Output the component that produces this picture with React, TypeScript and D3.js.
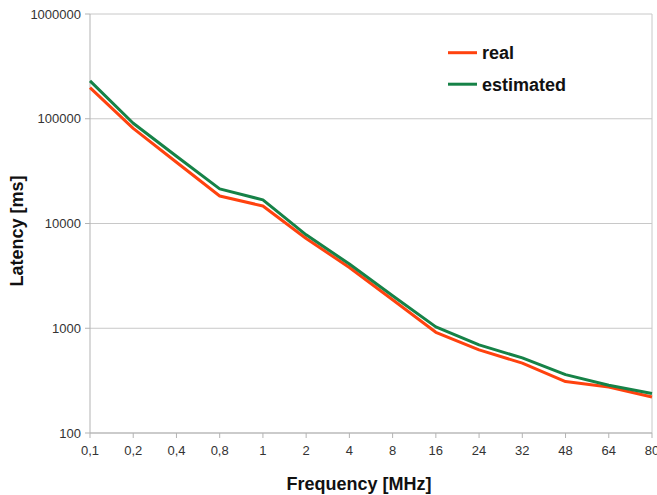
import React from "react";
import * as d3 from "d3";

const categories = ["0,1", "0,2", "0,4", "0,8", "1", "2", "4", "8", "16", "24", "32", "48", "64", "80"];
const realValues = [198000, 81000, 38400, 18300, 14700, 7200, 3800, 1870, 915, 621, 464, 310, 275, 221];
const estimatedValues = [230000, 90600, 43800, 21400, 16800, 7800, 4100, 2040, 1030, 693, 521, 361, 286, 238];
const yTicks = [100, 1000, 10000, 100000, 1000000];

const W = 657;
const H = 495;
const plot = { left: 90, right: 652, top: 14, bottom: 433 };
const font = "'Liberation Sans', Arial, sans-serif";

export default function App() {
  const x = d3.scalePoint<string>().domain(categories).range([plot.left, plot.right]);
  const y = d3.scaleLog().domain([100, 1000000]).range([plot.bottom, plot.top]);
  const line = d3
    .line<number>()
    .x((_, i) => x(categories[i]) as number)
    .y((d) => y(d));

  const series = [
    { name: "real", values: realValues, color: "#ff420e" },
    { name: "estimated", values: estimatedValues, color: "#168247" },
  ];

  return (
    <svg width={W} height={H} style={{ position: "absolute", left: 0, top: 0 }} fontFamily={font}>
      <rect width={W} height={H} fill="#fff" />
      {yTicks.map((t) => (
        <g key={t}>
          <line x1={plot.left} x2={plot.right} y1={y(t)} y2={y(t)} stroke="#c8c8c8" strokeWidth={1} />
          <line x1={plot.left - 5} x2={plot.left} y1={y(t)} y2={y(t)} stroke="#b3b3b3" strokeWidth={1} />
          <text x={81} y={y(t)} dy="0.35em" textAnchor="end" fontSize={13} fill="#333">
            {t}
          </text>
        </g>
      ))}
      <line x1={plot.left} x2={plot.left} y1={plot.top} y2={plot.bottom} stroke="#b3b3b3" />
      <line x1={plot.right} x2={plot.right} y1={plot.top} y2={plot.bottom} stroke="#c8c8c8" />
      <line x1={plot.left} x2={plot.right} y1={plot.bottom} y2={plot.bottom} stroke="#b3b3b3" />
      {categories.map((c) => (
        <g key={c}>
          <line x1={x(c)} x2={x(c)} y1={plot.bottom} y2={plot.bottom + 5} stroke="#b3b3b3" />
          <text x={x(c)} y={455} textAnchor="middle" fontSize={13} fill="#333">
            {c}
          </text>
        </g>
      ))}
      {series.map((s) => (
        <path key={s.name} d={line(s.values) || ""} fill="none" stroke={s.color} strokeWidth={3} strokeLinejoin="round" />
      ))}
      {series.map((s, i) => (
        <g key={s.name + "-legend"}>
          <line x1={448} x2={477} y1={52.7 + i * 31.5} y2={52.7 + i * 31.5} stroke={s.color} strokeWidth={3} />
          <text x={482} y={59 + i * 31.5} fontSize={18} fontWeight="bold" fill="#111">
            {s.name}
          </text>
        </g>
      ))}
      <text x={359} y={490} textAnchor="middle" fontSize={18} fontWeight="bold" fill="#111">
        Frequency [MHz]
      </text>
      <text
        transform={`translate(23,231) rotate(-90)`}
        textAnchor="middle"
        fontSize={18}
        fontWeight="bold"
        fill="#111"
      >
        Latency [ms]
      </text>
    </svg>
  );
}
